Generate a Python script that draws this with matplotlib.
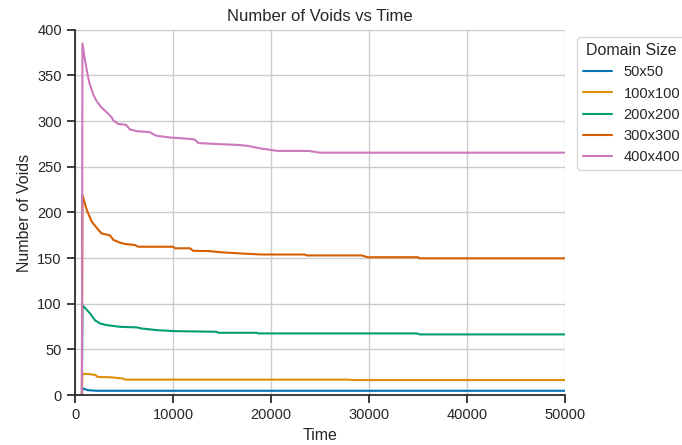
import numpy as np
import matplotlib
matplotlib.use("Agg")
import matplotlib.pyplot as plt
import seaborn as sns

# void counts: (time, voids) breakpoints of each run
t_50 = [0, 700, 760, 1300, 2200, 50000]
v_50 = [0, 0, 7.5, 5.5, 4.8, 4.8]

t_100 = [0, 700, 760, 1500, 2100, 2300, 3700, 4900, 5100, 28000, 28400, 50000]
v_100 = [0, 0, 23.5, 23, 22, 20, 19.5, 18.2, 17, 17, 16.5, 16.5]

t_200 = [0, 700, 760, 1530, 2040, 2550, 3230, 4590, 6300, 6800, 8340, 10200,
         14460, 14620, 18540, 18700, 34870, 35200, 50000]
v_200 = [0, 0, 98.5, 89.5, 82, 78.5, 76.7, 74.8, 74.2, 73, 71.2, 70.1,
         69.4, 68.3, 68.3, 67.6, 67.6, 66.5, 66.5]

t_300 = [0, 700, 760, 1190, 1700, 2380, 2720, 3570, 3910, 4590, 5100, 6120, 6460,
         10030, 10200, 11730, 12070, 13600, 14970, 17170, 19050, 23470, 23640,
         29250, 29930, 35030, 35200, 50000]
v_300 = [0, 0, 219, 203, 190, 181, 177, 175, 170, 167, 165.5, 164.4, 162.5,
         162.5, 160.8, 160.8, 158, 157.8, 156.4, 155, 154, 154, 153,
         153, 151, 151, 149.8, 149.8]

t_400 = [0, 700, 760, 1000, 1300, 1460, 1870, 2200, 2620, 3000, 3400, 3745, 3900,
         4400, 5200, 5600, 6300, 7600, 8300, 9800, 11200, 12200, 12600, 14400,
         16600, 17600, 19000, 20000, 20700, 23900, 25000, 50000]
v_400 = [0, 0, 385, 368, 350, 342, 329, 322, 316, 312, 308, 304, 301,
         297, 296, 291, 289, 288, 284, 282, 281, 280, 276, 275,
         274, 273, 270, 268.5, 267.4, 267.4, 265.5, 265.5]

labels = ["50x50", "100x100", "200x200", "300x300", "400x400"]
series = [(t_50, v_50), (t_100, v_100), (t_200, v_200), (t_300, v_300), (t_400, v_400)]

sns.set_theme(style="ticks", palette="colorblind")
plt.rcParams['font.family'] = ['Liberation Sans', 'DejaVu Sans']

fig = plt.figure(figsize=(6.82, 4.45), dpi=100)
ax = fig.add_axes([0.110, 0.112, 0.718, 0.821])

colors = sns.color_palette("colorblind")
for (t, v), lab, c in zip(series, labels, colors):
    ax.plot(t, v, color=c, lw=1.5, label=lab)

ax.grid(True, color="#cccccc", lw=1.0)
ax.set_axisbelow(True)
ax.set_xlim(0, 50000)
ax.set_ylim(0, 400)
ax.set_xticks(np.arange(0, 50001, 10000))
ax.set_yticks(np.arange(0, 401, 50))
ax.tick_params(labelsize=10.5)
sns.despine(ax=ax)

ax.set_title("Number of Voids vs Time", fontsize=12)
ax.set_xlabel("Time", fontsize=11.5)
ax.set_ylabel("Number of Voids", fontsize=11.5)
ax.legend(title="Domain Size", loc="upper left", bbox_to_anchor=(1.01, 1.0),
          fontsize=10.5, title_fontsize=11.5)

plt.savefig("out.png", dpi=100)
